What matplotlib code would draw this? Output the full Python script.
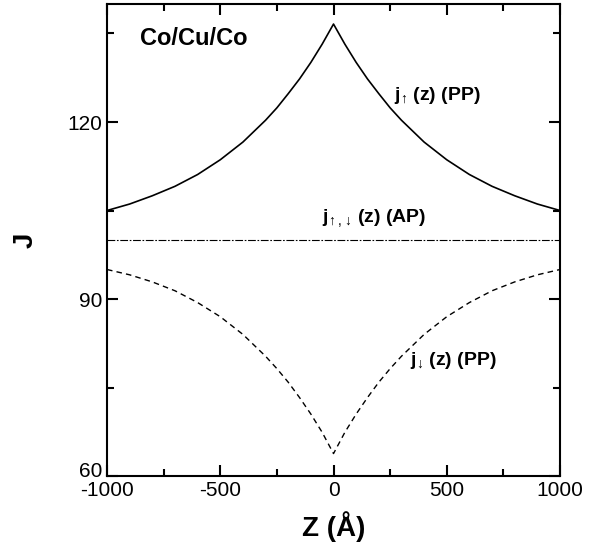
import numpy as np
import matplotlib
matplotlib.use('Agg')
import matplotlib.pyplot as plt
import matplotlib.transforms as mtrans

plt.rcParams['font.family'] = ['Liberation Sans', 'DejaVu Sans']
plt.rcParams['mathtext.fontset'] = 'custom'
plt.rcParams['mathtext.rm'] = 'Liberation Sans'
plt.rcParams['mathtext.bf'] = 'Liberation Sans:bold'
plt.rcParams['axes.unicode_minus'] = False

# values
z = [-1000, -900, -800, -700, -600, -500, -400, -300, -250, -200, -150, -100, -50, 0,
     50, 100, 150, 200, 250, 300, 400, 500, 600, 700, 800, 900, 1000]
j_up = [105.0, 106.1, 107.5, 109.1, 111.1, 113.6, 116.6, 120.3, 122.4, 124.8, 127.3, 130.1, 133.2, 136.6,
        133.2, 130.1, 127.3, 124.8, 122.4, 120.3, 116.6, 113.6, 111.1, 109.1, 107.5, 106.1, 105.0]
j_down = [95.0, 94.1, 92.9, 91.4, 89.4, 87.0, 84.0, 80.3, 78.2, 75.9, 73.3, 70.5, 67.4, 63.8,
          67.4, 70.5, 73.3, 75.9, 78.2, 80.3, 84.0, 87.0, 89.4, 91.4, 92.9, 94.1, 95.0]
z_ap = [-1000, 1000]
j_ap = [100.0, 100.0]

fig = plt.figure(figsize=(6.06, 5.55), dpi=100)
ax = fig.add_axes([0.1766, 0.1423, 0.7475, 0.8505])

ax.plot(z, j_up, color='black', lw=1.2)
ax.plot(z, j_down, color='black', lw=1.0, linestyle=(0, (4, 3)))
ax.plot(z_ap, j_ap, color='black', lw=0.8, linestyle=(0, (7, 1.5, 1.5, 1.5)))

ax.set_xlim(-1000, 1000)
ax.set_ylim(60, 140)
ax.set_xticks([-1000, -500, 0, 500, 1000])
ax.set_xticks([-750, -250, 250, 750], minor=True)
ax.set_yticks([60, 90, 120])
ax.set_yticks([75, 105, 135], minor=True)
ax.tick_params(which='both', direction='in', top=True, right=True, labelsize=15, width=1.5)
ax.tick_params(which='major', length=8)
ax.tick_params(which='minor', length=5)
for s in ax.spines.values():
    s.set_linewidth(1.5)

# lift the "60" a little so it clears "-1000"
fig.canvas.draw()
for lab in ax.get_yticklabels():
    if lab.get_text() == '60':
        lab.set_transform(lab.get_transform() + mtrans.ScaledTranslation(0, 5 / 72, fig.dpi_scale_trans))

ax.set_xlabel('Z (Å)', fontsize=20, fontweight='bold', labelpad=8)
ax.set_ylabel('J', fontsize=20, fontweight='bold')
ax.yaxis.set_label_coords(-0.15, 0.5)

ax.text(-856, 134.1, 'Co/Cu/Co', fontsize=17, fontweight='bold', va='center')
ax.text(268, 124.5, r'$\mathbf{j}_{\!\uparrow}\!$ (z) (PP)', fontsize=14, fontweight='bold', va='center')
ax.text(-50, 103.6, r'$\mathbf{j}_{\!\uparrow,\!\downarrow}\!$ (z) (AP)', fontsize=14, fontweight='bold', va='center')
ax.text(336, 79.6, r'$\mathbf{j}_{\!\downarrow}\!$ (z) (PP)', fontsize=14, fontweight='bold', va='center')

fig.savefig('out.png', dpi=100)
